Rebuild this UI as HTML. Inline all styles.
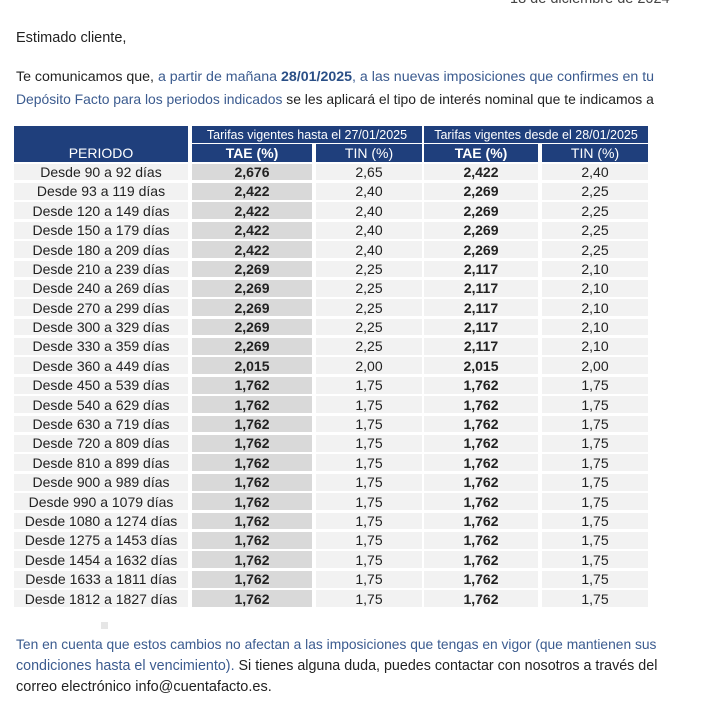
<!DOCTYPE html>
<html><head><meta charset="utf-8"><style>
body{margin:0;width:704px;height:716px;background:#fff;position:relative;overflow:hidden;font-family:"Liberation Sans",sans-serif;color:#222;}
.t{position:absolute;white-space:nowrap;font-size:14.5px;}
.b{color:#3b5b8f}
.bb{color:#2a4f86;font-weight:bold}
.c{position:absolute;display:flex;align-items:center;justify-content:center;font-size:14px;}
.h{background:#1f3f7c;color:#fff}
</style></head><body>
<div class="t" style="left:510px;top:-9px;color:#444">18 de diciembre de 2024</div>
<div class="t" style="left:16px;top:30px">Estimado cliente,</div>
<div class="t" style="left:16px;top:69px;font-size:14.2px">Te comunicamos que, <span class="b">a partir de mañana</span> <span class="bb">28/01/2025</span><span class="b">, a las nuevas imposiciones que confirmes en tu</span></div>
<div class="t" style="left:16px;top:91px;font-size:13.9px"><span class="b">Depósito Facto para los periodos indicados</span> se les aplicará el tipo de interés nominal que te indicamos a</div>
<div id="tb"></div>
<div style="position:absolute;left:101px;top:622px;width:7px;height:7px;background:#e6e6e6"></div>
<div class="t" style="left:16px;top:637px;color:#3b5b8f;font-size:13.8px">Ten en cuenta que estos cambios no afectan a las imposiciones que tengas en vigor (que mantienen sus</div>
<div class="t" style="left:16px;top:658px;font-size:14.3px"><span class="b">condiciones hasta el vencimiento).</span> Si tienes alguna duda, puedes contactar con nosotros a través del</div>
<div class="t" style="left:16px;top:679px">correo electrónico info@cuentafacto.es.</div>
<script>
var cols=[[14,174],[192,120],[316,106],[424,114],[542,106]];
var rows=[["Desde 90 a 92 días","2,676","2,65","2,422","2,40"],["Desde 93 a 119 días","2,422","2,40","2,269","2,25"],["Desde 120 a 149 días","2,422","2,40","2,269","2,25"],["Desde 150 a 179 días","2,422","2,40","2,269","2,25"],["Desde 180 a 209 días","2,422","2,40","2,269","2,25"],["Desde 210 a 239 días","2,269","2,25","2,117","2,10"],["Desde 240 a 269 días","2,269","2,25","2,117","2,10"],["Desde 270 a 299 días","2,269","2,25","2,117","2,10"],["Desde 300 a 329 días","2,269","2,25","2,117","2,10"],["Desde 330 a 359 días","2,269","2,25","2,117","2,10"],["Desde 360 a 449 días","2,015","2,00","2,015","2,00"]];
var late=["450 a 539","540 a 629","630 a 719","720 a 809","810 a 899","900 a 989","990 a 1079","1080 a 1274","1275 a 1453","1454 a 1632","1633 a 1811","1812 a 1827"];
late.forEach(function(p){rows.push(["Desde "+p+" días","1,762","1,75","1,762","1,75"]);});
var h="";
function cell(x,y,w,hh,cls,st,txt){h+='<div class="c '+cls+'" style="left:'+x+'px;top:'+y+'px;width:'+w+'px;height:'+hh+'px;'+st+'">'+txt+'</div>';}
cell(14,126,174,36,"h","","");
cell(14,144,174,18,"h","font-size:14px","PERIODO");
cell(192,126,230,17,"h","font-size:12.5px","Tarifas vigentes hasta el 27/01/2025");
cell(424,126,224,17,"h","font-size:12.5px","Tarifas vigentes desde el 28/01/2025");
var hd=["TAE (%)","TIN (%)","TAE (%)","TIN (%)"];
for(var i=1;i<5;i++)cell(cols[i][0],144,cols[i][1],18,"h",(i%2?"font-weight:bold;":"")+"font-size:14px",hd[i-1]);
var rh=446/23;
rows.forEach(function(r,j){var y=162+j*rh+1.5;
 for(var i=0;i<5;i++){var bg=i==1?"#d9d9d9":"#f2f2f2";var fw=(i==1||i==3)?"font-weight:bold;":"";
 cell(cols[i][0],y.toFixed(1),cols[i][1],(rh-2.5).toFixed(1),"","background:"+bg+";"+fw,r[i]);}});
document.getElementById("tb").innerHTML=h;
</script>
</body></html>
